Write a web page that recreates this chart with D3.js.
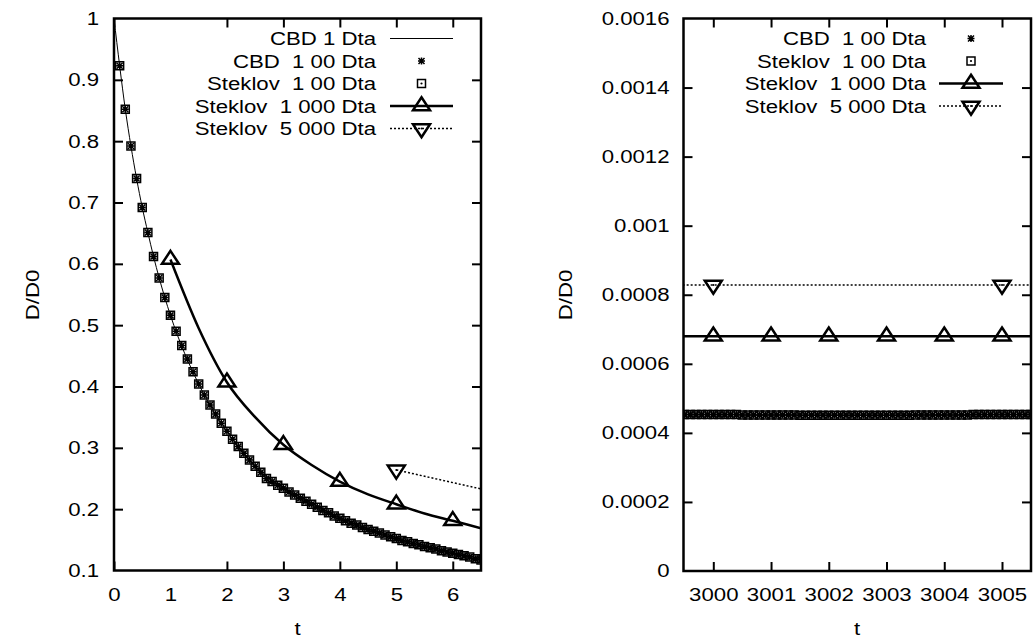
<!DOCTYPE html>
<meta charset="utf-8">
<style>
body { margin: 0; background: #fff; }
text { font-family: "Liberation Sans", Arial, sans-serif; font-size: 18.5px; fill: #000; }
</style>
<body>
<script src="https://d3js.org/d3.v7.min.js"></script>
<script>
// ---- left panel data ----
// t = 0.1 .. 6.5, step 0.1 (CBD 100 Dta and Steklov 100 Dta overlap)
var tDense = d3.range(1, 66).map(function(i){ return i / 10; });
var cbd100 = [0.923, 0.852, 0.792, 0.739, 0.692, 0.651, 0.612, 0.577, 0.545, 0.516,
              0.490, 0.467, 0.445, 0.424, 0.404, 0.386, 0.370, 0.355, 0.340, 0.327,
              0.314, 0.302, 0.291, 0.280, 0.270, 0.260, 0.250, 0.245, 0.239, 0.234,
              0.228, 0.223, 0.218, 0.213, 0.208, 0.203, 0.198, 0.194, 0.189, 0.185,
              0.181, 0.177, 0.174, 0.170, 0.167, 0.164, 0.161, 0.158, 0.155, 0.152,
              0.149, 0.147, 0.144, 0.142, 0.139, 0.137, 0.135, 0.132, 0.130, 0.128,
              0.126, 0.124, 0.122, 0.119, 0.117];
var steklov100 = [0.923, 0.852, 0.792, 0.739, 0.692, 0.651, 0.612, 0.577, 0.545, 0.516,
              0.490, 0.467, 0.445, 0.424, 0.404, 0.386, 0.370, 0.355, 0.340, 0.327,
              0.314, 0.302, 0.291, 0.280, 0.270, 0.260, 0.250, 0.245, 0.239, 0.234,
              0.228, 0.223, 0.218, 0.213, 0.208, 0.203, 0.198, 0.194, 0.189, 0.185,
              0.181, 0.177, 0.174, 0.170, 0.167, 0.164, 0.161, 0.158, 0.155, 0.152,
              0.149, 0.147, 0.144, 0.142, 0.139, 0.137, 0.135, 0.132, 0.130, 0.128,
              0.126, 0.124, 0.122, 0.119, 0.117];

var cbd1T = [0, 0.1, 0.2, 0.3, 0.4, 0.5, 0.6, 0.7, 0.8, 0.9, 1, 1.5, 2, 2.5, 3, 3.5, 4, 4.5, 5, 5.5, 6, 6.5];
var cbd1  = [1, 0.923, 0.852, 0.792, 0.739, 0.692, 0.651, 0.612, 0.577, 0.545, 0.516,
             0.404, 0.327, 0.270, 0.234, 0.208, 0.185, 0.167, 0.152, 0.139, 0.128, 0.117];

var stek1000T = [1, 1.5, 2, 2.5, 3, 3.5, 4, 4.5, 5, 5.5, 6, 6.5];
var stek1000  = [0.607, 0.495, 0.407, 0.350, 0.305, 0.272, 0.245, 0.224, 0.208, 0.193, 0.181, 0.169];
var stek1000MarkT = [1, 2, 3, 4, 5, 6];

var stek5000T = [5, 6.5];
var stek5000  = [0.264, 0.233];
var stek5000MarkT = [5];

// ---- right panel data ----
var tBandR = d3.range(0, 61).map(function(i){ return 2999.5 + i / 10; });
var bandR = [0.000453, 0.000453, 0.000453, 0.000453, 0.000453, 0.000453, 0.000453, 0.000453, 0.000453, 0.000453,
             0.000452, 0.000452, 0.000452, 0.000452, 0.000452, 0.000452, 0.000452, 0.000452, 0.000452, 0.000452,
             0.000451, 0.000451, 0.000451, 0.000451, 0.000451, 0.000451, 0.000451, 0.000451, 0.000451, 0.000451,
             0.000451, 0.000451, 0.000451, 0.000451, 0.000451, 0.000451, 0.000451, 0.000451, 0.000451, 0.000451,
             0.000452, 0.000452, 0.000452, 0.000452, 0.000452, 0.000452, 0.000452, 0.000452, 0.000452, 0.000452,
             0.000453, 0.000453, 0.000453, 0.000453, 0.000453, 0.000453, 0.000453, 0.000453, 0.000453, 0.000453,
             0.000453];

var stek1000RT = [2999.4, 3000, 3001, 3002, 3003, 3004, 3005, 3005.6];
var stek1000R  = [0.00068, 0.00068, 0.00068, 0.00068, 0.00068, 0.00068, 0.00068, 0.00068];
var stek1000RMarkT = [3000, 3001, 3002, 3003, 3004, 3005];

var stek5000RT = [2999.4, 3000, 3005, 3005.6];
var stek5000R  = [0.000828, 0.000828, 0.000828, 0.000828];
var stek5000RMarkT = [3000, 3005];

// ---- ticks ----
var xTicksL = [0, 1, 2, 3, 4, 5, 6];
var yTicksL = [0.1, 0.2, 0.3, 0.4, 0.5, 0.6, 0.7, 0.8, 0.9, 1];
var yTickLabelsL = ["0.1", "0.2", "0.3", "0.4", "0.5", "0.6", "0.7", "0.8", "0.9", "1"];
var xTicksR = [3000, 3001, 3002, 3003, 3004, 3005];
var yTicksR = [0, 0.0002, 0.0004, 0.0006, 0.0008, 0.001, 0.0012, 0.0014, 0.0016];
var yTickLabelsR = ["0", "0.0002", "0.0004", "0.0006", "0.0008", "0.001", "0.0012", "0.0014", "0.0016"];

// the plot font is a bit wider than Liberation Sans, so stretch text horizontally
var SX = 1.2;

var svg = d3.select("body").append("svg")
    .attr("width", 1034)
    .attr("height", 643);

// marker shapes (gnuplot-like)
var starPath = "M-3.5,0H3.5M0,-3.5V3.5M-3,-3L3,3M-3,3L3,-3";
var boxPath = "M-4,-4H4V4H-4Z";
var triUpPath = "M0,-8.7L8.5,4.3L-8.5,4.3Z";
var triDownPath = "M0,8.7L8.5,-4.3L-8.5,-4.3Z";

function star(g, x, y) {
  g.append("path").attr("transform", "translate(" + x + "," + y + ")")
    .attr("d", starPath).attr("fill", "none").attr("stroke", "#000").attr("stroke-width", 1.5);
}
function box(g, x, y) {
  g.append("path").attr("transform", "translate(" + x + "," + y + ")")
    .attr("d", boxPath).attr("fill", "none").attr("stroke", "#000").attr("stroke-width", 1.5);
  g.append("circle").attr("cx", x).attr("cy", y).attr("r", 1.1).attr("fill", "#000");
}
function triUp(g, x, y) {
  g.append("path").attr("transform", "translate(" + x + "," + y + ")")
    .attr("d", triUpPath).attr("fill", "none").attr("stroke", "#000").attr("stroke-width", 2.5);
}
function triDown(g, x, y) {
  g.append("path").attr("transform", "translate(" + x + "," + y + ")")
    .attr("d", triDownPath).attr("fill", "none").attr("stroke", "#000").attr("stroke-width", 2.5);
  g.append("circle").attr("cx", x).attr("cy", y).attr("r", 1).attr("fill", "#000");
}

function panel(id, x0, x1, y0, y1, x, y, xt, yt, ytl, pad) {
  var g = svg.append("g");

  g.append("clipPath").attr("id", id).append("rect")
    .attr("x", x0).attr("y", y1).attr("width", x1 - x0).attr("height", y0 - y1);

  var ax = [
    g.append("g").attr("transform", "translate(" + x0 + ",0)")
      .call(d3.axisLeft(y).tickValues(yt).tickFormat(function(d, i){ return ytl[i]; }).tickSize(-9).tickPadding(pad)),
    g.append("g").attr("transform", "translate(" + x1 + ",0)")
      .call(d3.axisRight(y).tickValues(yt).tickFormat("").tickSize(-9)),
    g.append("g").attr("transform", "translate(0," + y0 + ")")
      .call(d3.axisBottom(x).tickValues(xt).tickFormat(d3.format("d")).tickSize(-9).tickPadding(17)),
    g.append("g").attr("transform", "translate(0," + y1 + ")")
      .call(d3.axisTop(x).tickValues(xt).tickFormat("").tickSize(-9))
  ];
  ax.forEach(function(a){
    a.attr("font-size", null).attr("font-family", null);
    a.select(".domain").remove();
    a.selectAll(".tick line").attr("stroke-width", 2);
    a.selectAll(".tick").filter(function(d){ return y(d) === y0 || y(d) === y1; }).select("line").remove();
    a.selectAll(".tick text")
      .attr("x", function(){ return (+this.getAttribute("x") || 0) / SX; })
      .attr("transform", "scale(" + SX + ",1)");
  });

  g.append("rect")
    .attr("x", x0).attr("y", y1).attr("width", x1 - x0).attr("height", y0 - y1)
    .attr("fill", "none").attr("stroke", "#000").attr("stroke-width", 2.5);

  var plot = g.append("g").attr("clip-path", "url(#" + id + ")");
  return plot;
}

// ---------- left panel ----------
var xL = d3.scaleLinear().domain([0, 6.5]).range([114, 481]);
var yL = d3.scaleLinear().domain([0.1, 1]).range([570.5, 18.5]);
var pL = panel("clipL", 114, 481, 570.5, 18.5, xL, yL, xTicksL, yTicksL, yTickLabelsL, 15);

var lineL = d3.line().x(function(d){ return xL(d[0]); }).y(function(d){ return yL(d[1]); })
    .curve(d3.curveMonotoneX);

pL.append("path").attr("d", lineL(d3.zip(cbd1T, cbd1)))
  .attr("fill", "none").attr("stroke", "#000").attr("stroke-width", 1);

tDense.forEach(function(t, i){ star(pL, xL(t), yL(cbd100[i])); });
tDense.forEach(function(t, i){ box(pL, xL(t), yL(steklov100[i])); });

pL.append("path").attr("d", lineL(d3.zip(stek1000T, stek1000)))
  .attr("fill", "none").attr("stroke", "#000").attr("stroke-width", 2.5);
stek1000MarkT.forEach(function(t){ triUp(pL, xL(t), yL(stek1000[stek1000T.indexOf(t)])); });

pL.append("path").attr("d", lineL(d3.zip(stek5000T, stek5000)))
  .attr("fill", "none").attr("stroke", "#000").attr("stroke-width", 1.5).attr("stroke-dasharray", "2,2");
stek5000MarkT.forEach(function(t){ triDown(pL, xL(t), yL(stek5000[stek5000T.indexOf(t)])); });

// ---------- right panel ----------
var xR = d3.scaleLinear().domain([3000, 3005]).range([713.3, 1002]);
var yR = d3.scaleLinear().domain([0, 0.0016]).range([571, 18.5]);
var pR = panel("clipR", 683.5, 1031, 571, 18.5, xR, yR, xTicksR, yTicksR, yTickLabelsR, 14);

var lineR = d3.line().x(function(d){ return xR(d[0]); }).y(function(d){ return yR(d[1]); });

tBandR.forEach(function(t, i){ star(pR, xR(t), yR(bandR[i])); });
tBandR.forEach(function(t, i){ box(pR, xR(t), yR(bandR[i])); });

pR.append("path").attr("d", lineR(d3.zip(stek1000RT, stek1000R)))
  .attr("fill", "none").attr("stroke", "#000").attr("stroke-width", 2.5);
stek1000RMarkT.forEach(function(t){ triUp(pR, xR(t), yR(stek1000R[stek1000RT.indexOf(t)])); });

pR.append("path").attr("d", lineR(d3.zip(stek5000RT, stek5000R)))
  .attr("fill", "none").attr("stroke", "#000").attr("stroke-width", 1.5).attr("stroke-dasharray", "2,2");
stek5000RMarkT.forEach(function(t){ triDown(pR, xR(t), yR(stek5000R[stek5000RT.indexOf(t)])); });

// ---------- axis titles ----------
function label(tr, s) {
  svg.append("text").attr("text-anchor", "middle")
    .attr("transform", tr + " scale(" + SX + ",1)").text(s);
}
label("translate(39,295) rotate(-90)", "D/D0");
label("translate(572,295) rotate(-90)", "D/D0");
label("translate(297.5,635)", "t");
label("translate(857,635)", "t");

// ---------- legends ----------
var legendL = ["CBD 1 Dta", "CBD  1 00 Dta", "Steklov  1 00 Dta", "Steklov  1 000 Dta", "Steklov  5 000 Dta"];
var legendLKind = ["thin", "star", "box", "up", "down"];
var legendR = ["CBD  1 00 Dta", "Steklov  1 00 Dta", "Steklov  1 000 Dta", "Steklov  5 000 Dta"];
var legendRKind = ["star", "box", "up", "down"];

function legend(labels, kinds, textX, s0, s1) {
  var g = svg.append("g");
  var mid = (s0 + s1) / 2;
  labels.forEach(function(lab, i){
    var cy = 38.5 + 22.5 * i;
    g.append("text").attr("text-anchor", "end")
      .attr("transform", "translate(" + textX + "," + (cy + 6.6) + ") scale(" + SX + ",1)")
      .style("white-space", "pre").text(lab);
    var k = kinds[i];
    if (k === "thin") {
      g.append("line").attr("x1", s0).attr("x2", s1).attr("y1", cy).attr("y2", cy)
        .attr("stroke", "#000").attr("stroke-width", 1);
    } else if (k === "star") {
      star(g, mid, cy);
    } else if (k === "box") {
      box(g, mid, cy);
    } else if (k === "up") {
      g.append("line").attr("x1", s0).attr("x2", s1).attr("y1", cy).attr("y2", cy)
        .attr("stroke", "#000").attr("stroke-width", 2.5);
      triUp(g, mid, cy);
    } else if (k === "down") {
      g.append("line").attr("x1", s0).attr("x2", s1).attr("y1", cy).attr("y2", cy)
        .attr("stroke", "#000").attr("stroke-width", 1.5).attr("stroke-dasharray", "2,2");
      triDown(g, mid, cy);
    }
  });
}
legend(legendL, legendLKind, 376, 390, 453);
legend(legendR, legendRKind, 926, 939, 1003);
</script>
</body>
